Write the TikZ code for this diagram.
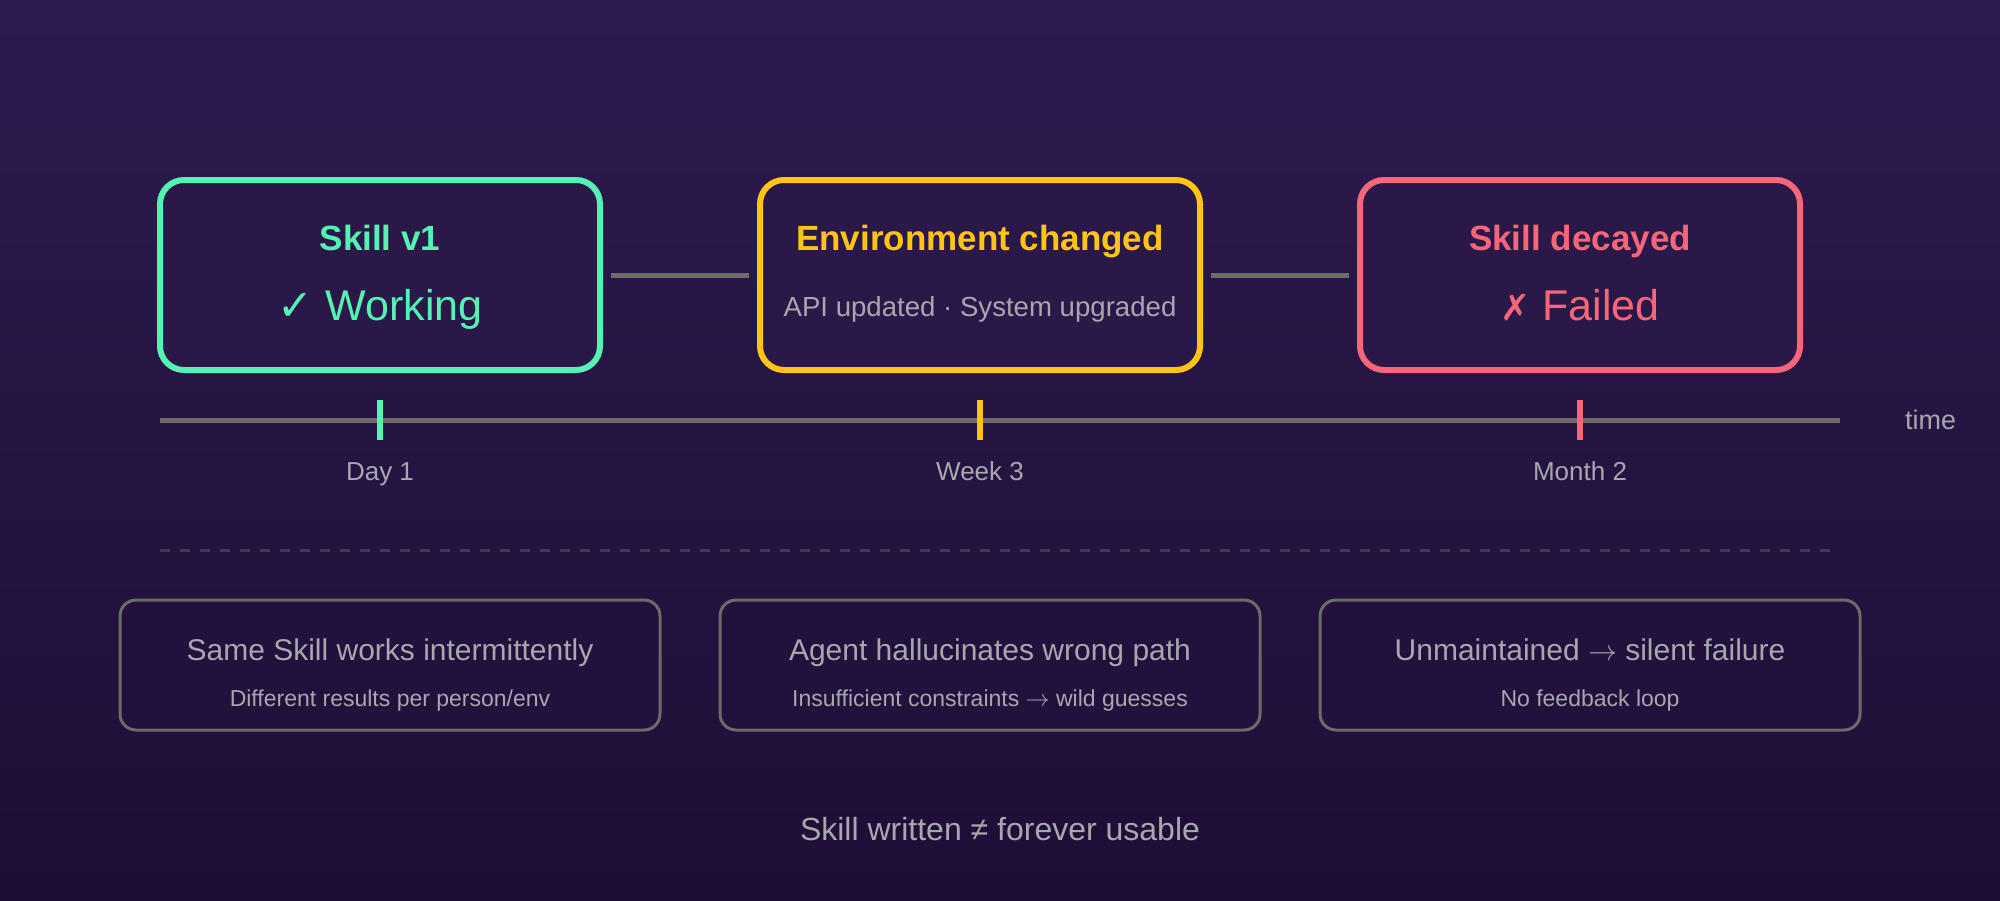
\documentclass[tikz,border=0pt]{standalone}
\usepackage{fontspec}
\setmainfont{Liberation Sans}
\newfontfamily\dejavu{DejaVu Sans}
\usetikzlibrary{positioning}
\definecolor{bgtop}{HTML}{2D1B4E}
\definecolor{bgbot}{HTML}{1E0E36}
\definecolor{okgreen}{HTML}{55F2B4}
\definecolor{warnyellow}{HTML}{FFC414}
\definecolor{failred}{HTML}{F76679}
\definecolor{linegray}{HTML}{6B6B6B}
\definecolor{textgray}{HTML}{A8A6AE}
\definecolor{dashgray}{HTML}{403A4A}
\newcommand{\toarrow}{\ensuremath{\rightarrow}}

\begin{document}
\begin{tikzpicture}[x=0.5pt,y=-0.5pt,
  stage/.style={draw, line width=3pt, rounded corners=12pt, minimum width=220pt, minimum height=95pt, fill=bgtop!80!bgbot},
  issue/.style={draw=linegray, line width=1.5pt, rounded corners=8pt, minimum width=270pt, minimum height=65pt, fill=bgbot!75!bgtop},
  head/.style={anchor=base, font=\fontsize{17.5}{21}\selectfont\bfseries},
  state/.style={anchor=base, font=\fontsize{21.5}{26}\selectfont},
  note/.style={anchor=base, text=textgray, font=\fontsize{13.5}{16}\selectfont},
  issuemain/.style={anchor=base, text=textgray, font=\fontsize{15}{18}\selectfont},
  issuesub/.style={anchor=base, text=textgray, font=\fontsize{11.5}{14}\selectfont},
  link/.style={draw=linegray, line width=2.5pt, shorten <=4pt, shorten >=4pt},
  tickmark/.style={line width=3pt}]
\shade[top color=bgtop, bottom color=bgbot] (0,0) rectangle (2000,900);
\useasboundingbox (0,0) rectangle (2000,900);

\node[stage, draw=okgreen] (b1) at (380,275) {};
\node[stage, draw=warnyellow] (b2) at (980,275) {};
\node[stage, draw=failred] (b3) at (1580,275) {};
\draw[link] (b1) -- (b2);
\draw[link] (b2) -- (b3);

\node[head, text=okgreen] (h1) at (380,250) {Skill v1};
\node[state, text=okgreen] (s1) at (380,320) {{\dejavu ✓} Working};
\node[head, text=warnyellow] (h2) at (980,250) {Environment changed};
\node[note, font=\fontsize{13.8}{16}\selectfont] (s2) at (980,316) {API updated · System upgraded};
\node[head, text=failred] (h3) at (1580,250) {Skill decayed};
\node[state, text=failred] (s3) at (1580,320) {{\dejavu\fontsize{18}{22}\selectfont ✗} Failed};

\coordinate (axisL) at (160,420);
\coordinate (axisR) at (1840,420);
\draw[linegray, line width=2.5pt] (axisL) -- (axisR);
\node[anchor=west, text=textgray, font=\fontsize{13.5}{16}\selectfont] (time) at (1898,420) {time};
\draw[tickmark, okgreen] (380,400) -- (380,440);
\draw[tickmark, warnyellow] (980,400) -- (980,440);
\draw[tickmark, failred] (1580,400) -- (1580,440);
\node[note, font=\fontsize{13}{16}\selectfont] (d1) at (380,480) {Day 1};
\node[note, font=\fontsize{13}{16}\selectfont] (d2) at (980,480) {Week 3};
\node[note, font=\fontsize{13}{16}\selectfont] (d3) at (1580,480) {Month 2};

\draw[dashgray, line width=1.5pt, dash pattern=on 5pt off 5pt] (160,550) -- (1840,550);

\node[issue] (i1) at (390,665) {};
\node[issue] (i2) at (990,665) {};
\node[issue] (i3) at (1590,665) {};
\node[issuemain] (m1) at (390,660) {Same Skill works intermittently};
\node[issuesub] (n1) at (390,706) {Different results per person/env};
\node[issuemain] (m2) at (990,660) {Agent hallucinates wrong path};
\node[issuesub] (n2) at (990,706) {Insufficient constraints \toarrow{} wild guesses};
\node[issuemain] (m3) at (1590,660) {Unmaintained \toarrow{} silent failure};
\node[issuesub] (n3) at (1590,706) {No feedback loop};

\node[anchor=base, text=textgray, font=\fontsize{16}{19}\selectfont] (foot) at (1000,840) {Skill written ≠ forever usable};
\end{tikzpicture}
\end{document}
